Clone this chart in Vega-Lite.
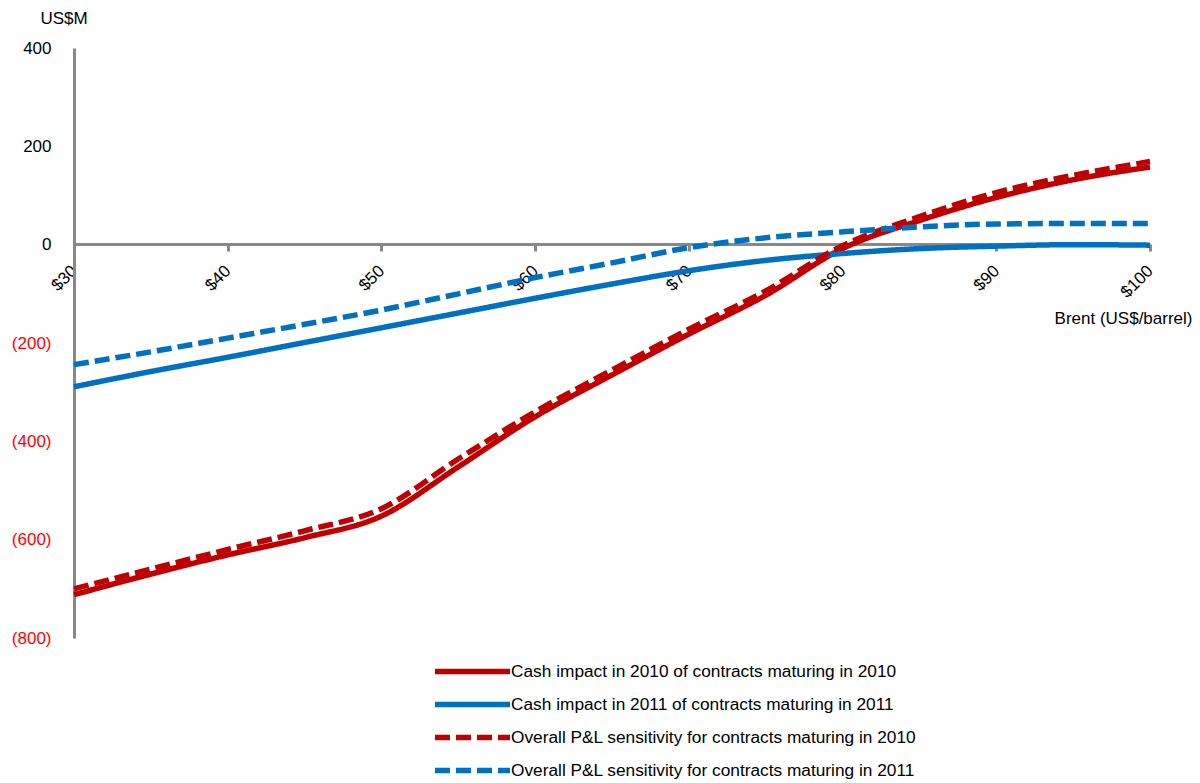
{
  "$schema": "https://vega.github.io/schema/vega-lite/v6.json",
  "width": 1076,
  "height": 590,
  "autosize": "none",
  "padding": {"left": 74, "top": 48, "right": 50, "bottom": 145},
  "background": "white",
  "config": {
    "font": "Liberation Sans",
    "view": {"stroke": null}
  },
  "datasets": {
    "rows": [
      {"brent": 30, "series": "Cash impact in 2010 of contracts maturing in 2010", "value": -712},
      {"brent": 35, "series": "Cash impact in 2010 of contracts maturing in 2010", "value": -670},
      {"brent": 40, "series": "Cash impact in 2010 of contracts maturing in 2010", "value": -631},
      {"brent": 45, "series": "Cash impact in 2010 of contracts maturing in 2010", "value": -596},
      {"brent": 50, "series": "Cash impact in 2010 of contracts maturing in 2010", "value": -552},
      {"brent": 55, "series": "Cash impact in 2010 of contracts maturing in 2010", "value": -452},
      {"brent": 60, "series": "Cash impact in 2010 of contracts maturing in 2010", "value": -350},
      {"brent": 65, "series": "Cash impact in 2010 of contracts maturing in 2010", "value": -265},
      {"brent": 70, "series": "Cash impact in 2010 of contracts maturing in 2010", "value": -182},
      {"brent": 75, "series": "Cash impact in 2010 of contracts maturing in 2010", "value": -103},
      {"brent": 80, "series": "Cash impact in 2010 of contracts maturing in 2010", "value": -8},
      {"brent": 85, "series": "Cash impact in 2010 of contracts maturing in 2010", "value": 49},
      {"brent": 90, "series": "Cash impact in 2010 of contracts maturing in 2010", "value": 96},
      {"brent": 95, "series": "Cash impact in 2010 of contracts maturing in 2010", "value": 132},
      {"brent": 100, "series": "Cash impact in 2010 of contracts maturing in 2010", "value": 158},
      {"brent": 30, "series": "Cash impact in 2011 of contracts maturing in 2011", "value": -289},
      {"brent": 35, "series": "Cash impact in 2011 of contracts maturing in 2011", "value": -258},
      {"brent": 40, "series": "Cash impact in 2011 of contracts maturing in 2011", "value": -229},
      {"brent": 45, "series": "Cash impact in 2011 of contracts maturing in 2011", "value": -199},
      {"brent": 50, "series": "Cash impact in 2011 of contracts maturing in 2011", "value": -169},
      {"brent": 55, "series": "Cash impact in 2011 of contracts maturing in 2011", "value": -139},
      {"brent": 60, "series": "Cash impact in 2011 of contracts maturing in 2011", "value": -109},
      {"brent": 65, "series": "Cash impact in 2011 of contracts maturing in 2011", "value": -80},
      {"brent": 70, "series": "Cash impact in 2011 of contracts maturing in 2011", "value": -53},
      {"brent": 75, "series": "Cash impact in 2011 of contracts maturing in 2011", "value": -32},
      {"brent": 80, "series": "Cash impact in 2011 of contracts maturing in 2011", "value": -18},
      {"brent": 85, "series": "Cash impact in 2011 of contracts maturing in 2011", "value": -8},
      {"brent": 90, "series": "Cash impact in 2011 of contracts maturing in 2011", "value": -3},
      {"brent": 95, "series": "Cash impact in 2011 of contracts maturing in 2011", "value": 0},
      {"brent": 100, "series": "Cash impact in 2011 of contracts maturing in 2011", "value": -1},
      {"brent": 30, "series": "Overall P&L sensitivity for contracts maturing in 2010", "value": -700},
      {"brent": 35, "series": "Overall P&L sensitivity for contracts maturing in 2010", "value": -660},
      {"brent": 40, "series": "Overall P&L sensitivity for contracts maturing in 2010", "value": -620},
      {"brent": 45, "series": "Overall P&L sensitivity for contracts maturing in 2010", "value": -582},
      {"brent": 50, "series": "Overall P&L sensitivity for contracts maturing in 2010", "value": -537},
      {"brent": 55, "series": "Overall P&L sensitivity for contracts maturing in 2010", "value": -436},
      {"brent": 60, "series": "Overall P&L sensitivity for contracts maturing in 2010", "value": -340},
      {"brent": 65, "series": "Overall P&L sensitivity for contracts maturing in 2010", "value": -255},
      {"brent": 70, "series": "Overall P&L sensitivity for contracts maturing in 2010", "value": -172},
      {"brent": 75, "series": "Overall P&L sensitivity for contracts maturing in 2010", "value": -94},
      {"brent": 80, "series": "Overall P&L sensitivity for contracts maturing in 2010", "value": -2},
      {"brent": 85, "series": "Overall P&L sensitivity for contracts maturing in 2010", "value": 57},
      {"brent": 90, "series": "Overall P&L sensitivity for contracts maturing in 2010", "value": 106},
      {"brent": 95, "series": "Overall P&L sensitivity for contracts maturing in 2010", "value": 141},
      {"brent": 100, "series": "Overall P&L sensitivity for contracts maturing in 2010", "value": 169},
      {"brent": 30, "series": "Overall P&L sensitivity for contracts maturing in 2011", "value": -244},
      {"brent": 35, "series": "Overall P&L sensitivity for contracts maturing in 2011", "value": -218},
      {"brent": 40, "series": "Overall P&L sensitivity for contracts maturing in 2011", "value": -190},
      {"brent": 45, "series": "Overall P&L sensitivity for contracts maturing in 2011", "value": -162},
      {"brent": 50, "series": "Overall P&L sensitivity for contracts maturing in 2011", "value": -133},
      {"brent": 55, "series": "Overall P&L sensitivity for contracts maturing in 2011", "value": -100},
      {"brent": 60, "series": "Overall P&L sensitivity for contracts maturing in 2011", "value": -67},
      {"brent": 65, "series": "Overall P&L sensitivity for contracts maturing in 2011", "value": -37},
      {"brent": 70, "series": "Overall P&L sensitivity for contracts maturing in 2011", "value": -6},
      {"brent": 75, "series": "Overall P&L sensitivity for contracts maturing in 2011", "value": 14},
      {"brent": 80, "series": "Overall P&L sensitivity for contracts maturing in 2011", "value": 26},
      {"brent": 85, "series": "Overall P&L sensitivity for contracts maturing in 2011", "value": 36},
      {"brent": 90, "series": "Overall P&L sensitivity for contracts maturing in 2011", "value": 42},
      {"brent": 95, "series": "Overall P&L sensitivity for contracts maturing in 2011", "value": 43},
      {"brent": 100, "series": "Overall P&L sensitivity for contracts maturing in 2011", "value": 43}
    ]
  },
  "data": {"name": "rows"},
  "mark": {"type": "line", "interpolate": "monotone", "strokeWidth": 5.5, "strokeCap": "butt"},
  "encoding": {
    "x": {
      "field": "brent",
      "type": "quantitative",
      "scale": {"domain": [30, 100], "nice": false, "zero": false},
      "axis": {
        "orient": "bottom",
        "offset": -394,
        "values": [30, 40, 50, 60, 70, 80, 90, 100],
        "labelExpr": "'$' + datum.value",
        "labelAngle": -45,
        "labelAlign": "right",
        "labelBaseline": "middle",
        "labelFontSize": 17,
        "labelColor": "black",
        "labelPadding": 17,
        "grid": false,
        "domainColor": "#888888",
        "domainWidth": 3,
        "tickColor": "#888888",
        "tickWidth": 3,
        "tickSize": 7,
        "title": "Brent (US$/barrel)",
        "titleFontSize": 17,
        "titleFontWeight": "normal",
        "titleColor": "black",
        "titleAnchor": "end",
        "titleAlign": "right",
        "titleBaseline": "middle",
        "titleX": 1118,
        "titleY": 74
      }
    },
    "y": {
      "field": "value",
      "type": "quantitative",
      "scale": {"domain": [-800, 400], "nice": false},
      "axis": {
        "values": [-800, -600, -400, -200, 0, 200, 400],
        "labelExpr": "datum.value < 0 ? '(' + format(-datum.value, 'd') + ')' : format(datum.value, 'd')",
        "labelColor": {"condition": {"test": "datum.value < 0", "value": "#FF0000"}, "value": "black"},
        "labelFontSize": 17,
        "labelPadding": 23,
        "ticks": false,
        "grid": false,
        "domainColor": "#888888",
        "domainWidth": 3,
        "title": "US$M",
        "titleAngle": 0,
        "titleFontSize": 17,
        "titleFontWeight": "normal",
        "titleColor": "black",
        "titleAlign": "left",
        "titleBaseline": "middle",
        "titleX": -34,
        "titleY": -30
      }
    },
    "color": {
      "field": "series",
      "type": "nominal",
      "scale": {
        "domain": [
          "Cash impact in 2010 of contracts maturing in 2010",
          "Cash impact in 2011 of contracts maturing in 2011",
          "Overall P&L sensitivity for contracts maturing in 2010",
          "Overall P&L sensitivity for contracts maturing in 2011"
        ],
        "range": ["#C00000", "#0070C0", "#C00000", "#0070C0"]
      },
      "legend": {
        "title": null,
        "orient": "none",
        "legendX": 358,
        "legendY": 613,
        "symbolType": "M-1,0H9",
        "symbolStrokeWidth": 5.5,
        "symbolSize": 225,
        "labelFontSize": 17.3,
        "labelColor": "black",
        "labelLimit": 600,
        "rowPadding": 10,
        "labelOffset": 58
      }
    },
    "strokeDash": {
      "field": "series",
      "type": "nominal",
      "scale": {
        "domain": [
          "Cash impact in 2010 of contracts maturing in 2010",
          "Cash impact in 2011 of contracts maturing in 2011",
          "Overall P&L sensitivity for contracts maturing in 2010",
          "Overall P&L sensitivity for contracts maturing in 2011"
        ],
        "range": [[1, 0], [1, 0], [15, 6], [15, 6]]
      },
      "legend": {
        "title": null,
        "orient": "none",
        "legendX": 358,
        "legendY": 613,
        "symbolType": "M-1,0H9",
        "symbolStrokeWidth": 5.5,
        "symbolSize": 225,
        "labelFontSize": 17.3,
        "labelColor": "black",
        "labelLimit": 600,
        "rowPadding": 10,
        "labelOffset": 58
      }
    }
  }
}
